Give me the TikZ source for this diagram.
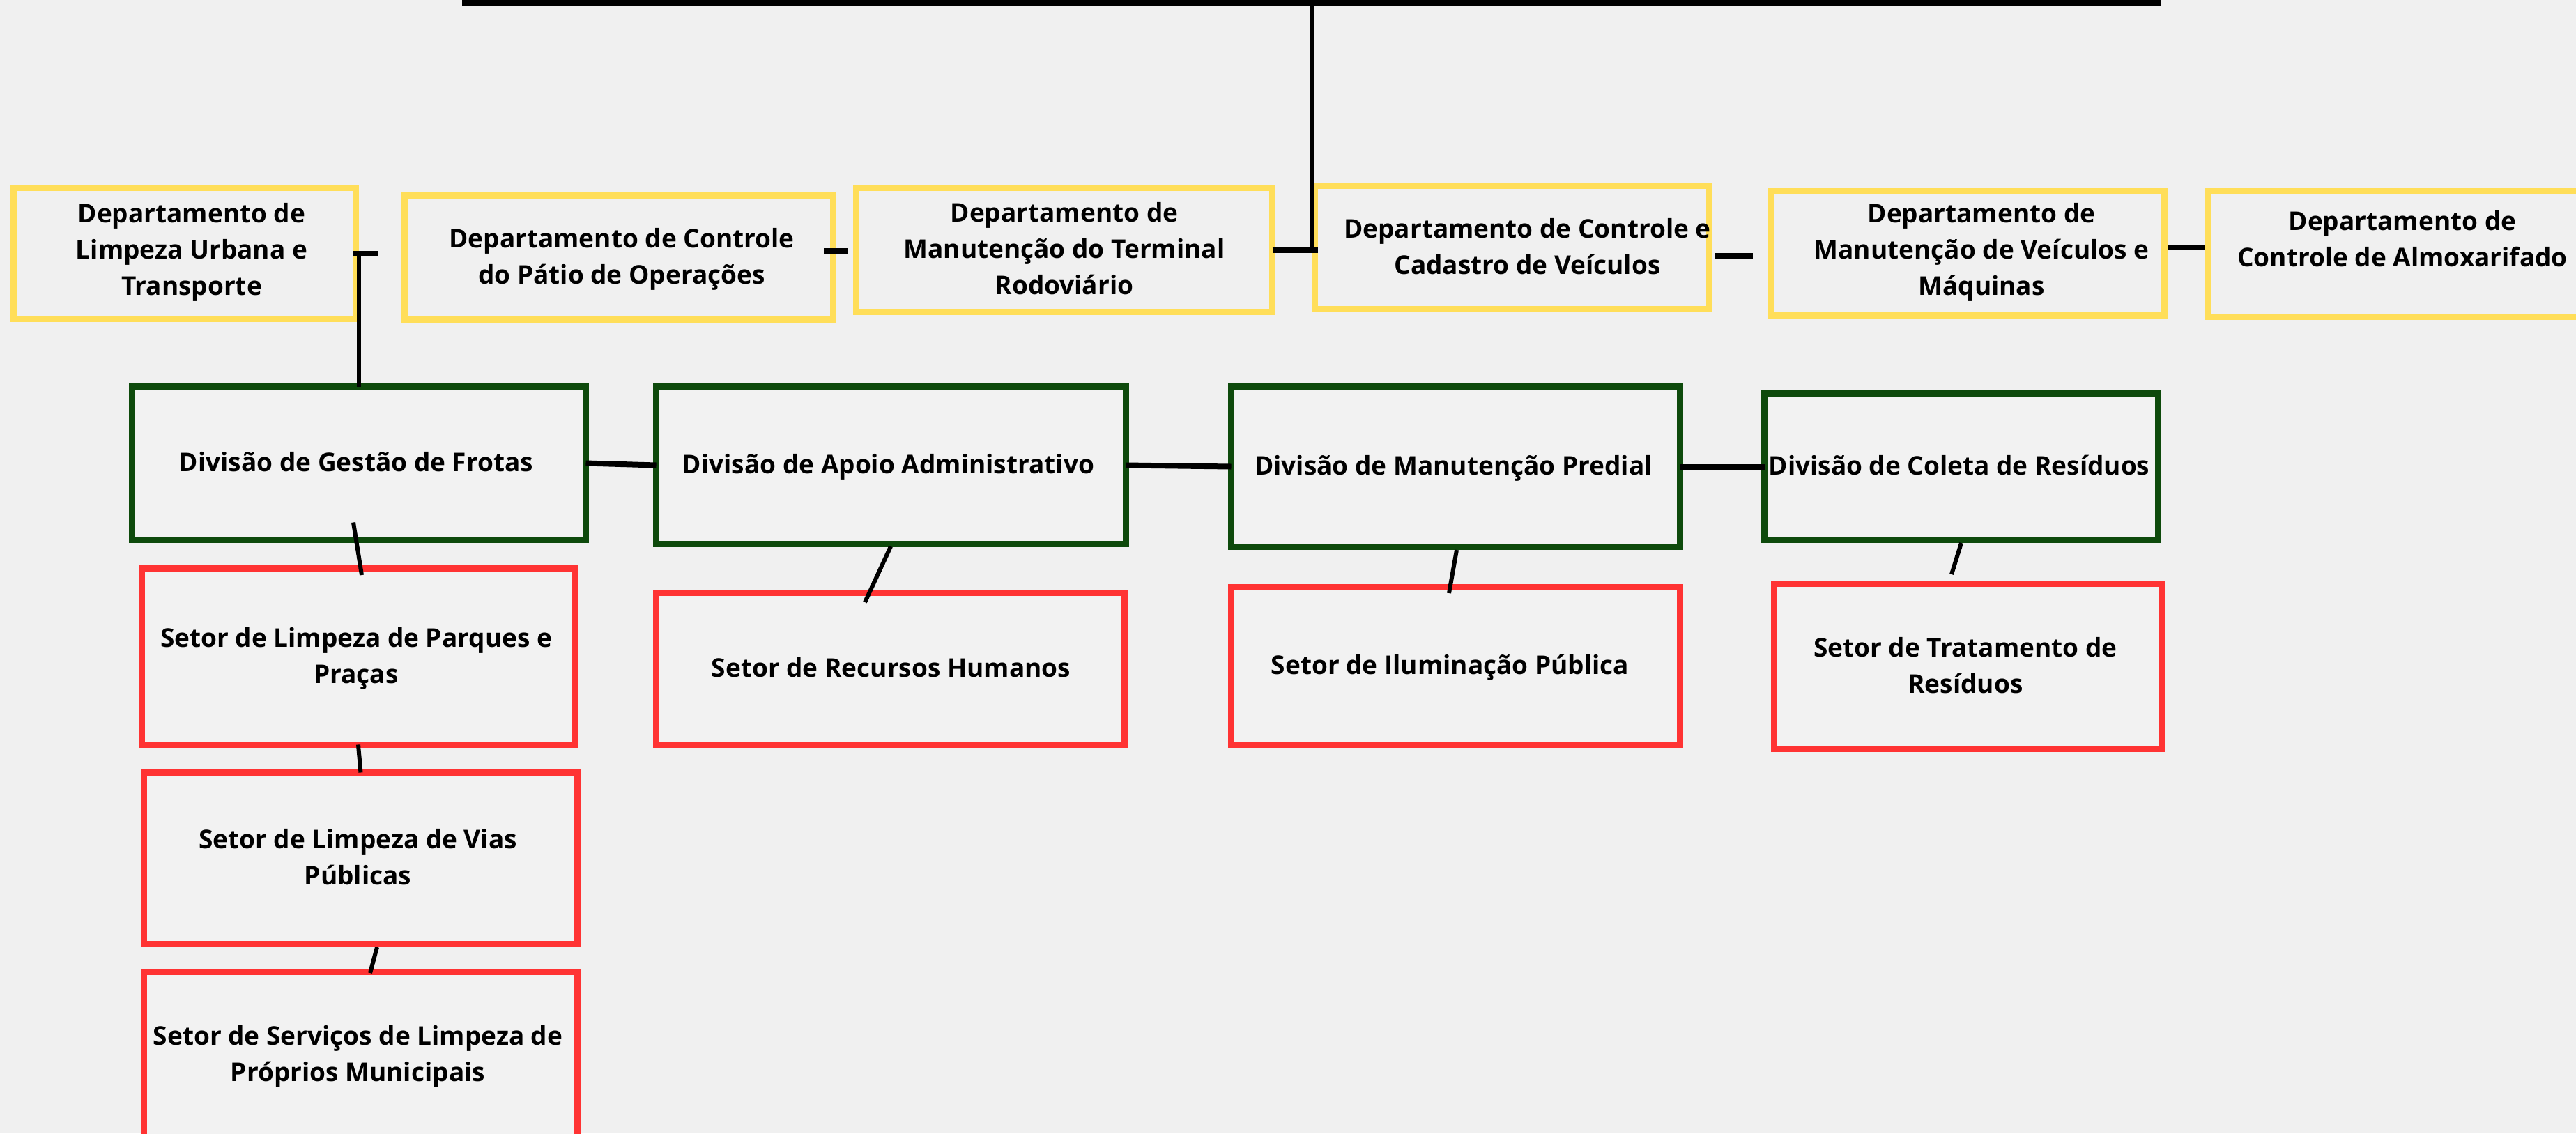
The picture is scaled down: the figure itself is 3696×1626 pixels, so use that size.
\documentclass[tikz,border=0pt]{standalone}
\usepackage{fontspec}
\setmainfont{Open Sans}
\usetikzlibrary{calc}
\definecolor{bgc}{HTML}{F0F0F0}
\definecolor{yel}{HTML}{FFDE59}
\definecolor{grn}{HTML}{0E4A0C}
\definecolor{rd}{HTML}{FF3333}
\definecolor{boxfill}{HTML}{F2F2F2}
% #1 = horizontal text shift, #2 = vertical text shift (down), #3 = text
\newcommand\bt[3]{\makebox[0pt]{\hspace*{#1}\hspace*{#1}\raisebox{\dimexpr-8pt-#2\relax}[0pt][0pt]{\begin{tabular}{@{}c@{}}#3\end{tabular}}}}
\begin{document}
\begin{tikzpicture}[x=1pt,y=-1pt,
  every node/.style={inner sep=0pt, outer sep=0pt, font=\fontsize{37}{52}\selectfont\bfseries},
  ybox/.style={rectangle, draw=yel, line width=9pt},
  gbox/.style={rectangle, draw=grn, fill=boxfill, line width=9pt},
  rbox/.style={rectangle, draw=rd, fill=boxfill, line width=9pt},
  topbar/.style={draw=black, line width=9pt},
  dashc/.style={draw=black, line width=8pt},
  hconn/.style={draw=black, line width=8pt},
  conn/.style={draw=black, line width=6pt}]
\useasboundingbox (0,0) rectangle (3696,1626);
\clip (0,0) rectangle (3696,1626);
\fill[bgc] (0,0) rectangle (3696,1626);

% departments
\node[ybox, minimum width=491, minimum height=188] (Y1) at (265,363.5) {\bt{10pt}{-4pt}{Departamento de\\Limpeza Urbana e\\Transporte}};
\node[ybox, minimum width=615, minimum height=178] (Y2) at (888,369.5) {\bt{4pt}{0pt}{Departamento de Controle\\do Pátio de Operações}};
\node[ybox, minimum width=597, minimum height=178] (Y3) at (1527,358.5) {\bt{0pt}{0pt}{Departamento de\\Manutenção do Terminal\\Rodoviário}};
\node[ybox, minimum width=566, minimum height=177] (Y4) at (2169.5,355) {\bt{22pt}{0pt}{Departamento de Controle e\\Cadastro de Veículos}};
\node[ybox, minimum width=565, minimum height=178] (Y5) at (2823,363.5) {\bt{20pt}{-4pt}{Departamento de\\Manutenção de Veículos e\\Máquinas}};
\node[ybox, minimum width=557, minimum height=180] (Y6) at (3447,364.5) {\bt{0pt}{-20pt}{Departamento de\\Controle de Almoxarifado}};

% divisions
\node[gbox, minimum width=651, minimum height=220] (G1) at (515,664.5) {\bt{-4pt}{0pt}{Divisão de Gestão de Frotas}};
\node[gbox, minimum width=674, minimum height=226] (G2) at (1278.5,667.5) {\bt{-4pt}{0pt}{Divisão de Apoio Administrativo}};
\node[gbox, minimum width=644, minimum height=230] (G3) at (2088.5,669.5) {\bt{-3pt}{0pt}{Divisão de Manutenção Predial}};
\node[gbox, minimum width=565, minimum height=210] (G4) at (2814,669.5) {\bt{-3pt}{0pt}{Divisão de Coleta de Resíduos}};

% sectors
\node[rbox, minimum width=621, minimum height=253] (R1) at (514,942) {\bt{-3pt}{0pt}{Setor de Limpeza de Parques e\\Praças}};
\node[rbox, minimum width=672, minimum height=218] (R2) at (1277.5,959.5) {\bt{1pt}{0pt}{Setor de Recursos Humanos}};
\node[rbox, minimum width=644, minimum height=226] (R3) at (2088.5,955.5) {\bt{-8pt}{0pt}{Setor de Iluminação Pública}};
\node[rbox, minimum width=557, minimum height=237] (R4) at (2824,956) {\bt{-4pt}{0pt}{Setor de Tratamento de\\Resíduos}};
\node[rbox, minimum width=622, minimum height=246] (R5) at (517.5,1231.5) {\bt{-4pt}{0pt}{Setor de Limpeza de Vias\\Públicas}};
\node[rbox, minimum width=622, minimum height=237] (R6) at (517.5,1513) {\bt{-4pt}{0pt}{Setor de Serviços de Limpeza de\\Próprios Municipais}};

% top bar and its stem
\coordinate (topL) at (663,4.5);
\coordinate (topR) at (3100,4.5);
\coordinate (topJ) at (1882,4.5);
\coordinate (j3) at (topJ |- Y3.east);
\draw[topbar] (topL) -- (topR);
\draw[conn] (topJ) -- (j3);
\draw[dashc] (Y3.east) -- ($(j3)+(9,0)$);

% department connectors
\coordinate (j1) at (G1.north |- Y1.east);
\draw[dashc] ($(Y1.east)+(-4,0)$) -- ($(Y1.east)+(32,0)$);
\draw[conn] (G1.north) -- (j1);
\draw[dashc] ($(Y2.east)+(-13.5,-9.5)$) -- ($(Y3.west)+(-12.5,1.5)$);
\draw[dashc] ($(Y4.east)+(8.5,12)$) -- ($(Y5.west)+(-25.5,3.5)$);
\draw[dashc] ($(Y5.east)+(4.5,-8.5)$) -- ($(Y6.west)+(-4.5,-9.5)$);

% division connectors
\draw[hconn] (G1.east) -- (G2.west);
\draw[hconn] (G2.east) -- (G3.west);
\draw[hconn] (G3.east) -- (G4.west);

% division to sector connectors
\draw[conn] ($(G1.south)+(-8,-25)$) -- ($(R1.north)+(5,9.5)$);
\draw[conn] ($(G2.south)+(-0.5,3.5)$) -- ($(R2.north)+(-36.5,13.5)$);
\draw[conn] ($(G3.south)+(1.5,4.5)$) -- ($(R3.north)+(-9.5,8.5)$);
\draw[conn] ($(G4.south)+(0,4.5)$) -- ($(R4.north)+(-24,-13.5)$);
\draw[conn] (R1.south) -- (R5.north);
\draw[conn] ($(R5.south)+(23.5,4.5)$) -- ($(R6.north)+(13.5,1.5)$);
\end{tikzpicture}
\end{document}
